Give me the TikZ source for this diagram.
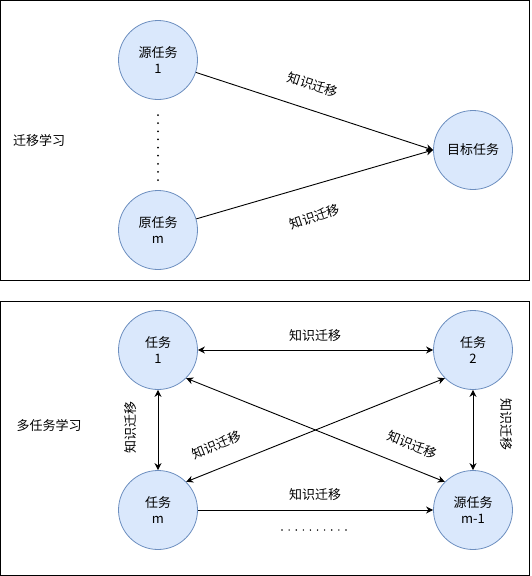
\documentclass[tikz,border=0pt]{standalone}
\usepackage{fontspec}
\setmainfont{Noto Sans CJK SC}
\usepackage{xcolor}
\usetikzlibrary{arrows.meta}
\definecolor{taskfill}{HTML}{DAE8FC}
\definecolor{taskline}{HTML}{6C8EBF}
\tikzset{
  taskcircle/.style = {circle, draw = taskline, fill = taskfill, line width = 0.8pt,
    minimum size = 79pt, inner sep = 0pt, align = center,
    font = \fontsize{13}{16}\selectfont},
  translab/.style = {font = \fontsize{13}{16}\selectfont, inner sep = 0pt},
  transarrow/.style = {line width = 0.9pt, -{Stealth[length = 7pt, width = 7pt]}},
  twoarrow/.style = {line width = 0.9pt, {Stealth[length = 7pt, width = 7pt]}-{Stealth[length = 7pt, width = 7pt]}},
  dotline/.style = {line width = 2pt, line cap = round, dash pattern = on 0pt off #1}
}
\begin{document}
\begin{tikzpicture}[x = 1pt, y = -1pt]

  \useasboundingbox (0,0) rectangle (531,576);

  % Draw frames
  \draw[line width = 1pt] (0.5,0.5) rectangle (529,280);
  \draw[line width = 1pt] (0.5,301) rectangle (529,575);

  % Transfer learning
  \node[translab] (tl) at (39,141) {迁移学习};
  \node[taskcircle] (src1) at (158,60) {源任务\\1};
  \node[taskcircle] (srcm) at (158,230) {原任务\\m};
  \node[taskcircle] (tgt) at (473,150) {目标任务};
  \draw[transarrow] (src1) -- (tgt.west);
  \draw[transarrow] (srcm) -- (tgt.west);
  \node[translab, rotate = -18.3] (tl1) at (313,85) {知识迁移};
  \node[translab, rotate = 18.3] (tl2) at (315,217) {知识迁移};
  \coordinate (vd1) at (158,115);
  \coordinate (vd2) at (158,180.5);
  \draw[dotline = 8.125pt] (vd1) -- (vd2);

  % Multi-task learning
  \node[translab] (mtl) at (49,426) {多任务学习};
  \node[taskcircle] (task1) at (158,350) {任务\\1};
  \node[taskcircle] (task2) at (473,350) {任务\\2};
  \node[taskcircle] (taskm) at (158,510) {任务\\m};
  \node[taskcircle] (taskmm) at (473,510) {源任务\\m-1};
  \draw[twoarrow] (task1) -- (task2);
  \draw[transarrow] (taskm) -- (taskmm);
  \draw[twoarrow] (task1) -- (taskm);
  \draw[twoarrow] (task2) -- (taskmm);
  \draw[twoarrow] (task1.south east) -- (taskmm.north west);
  \draw[twoarrow] (task2.south west) -- (taskm.north east);
  \node[translab] (ml1) at (315,336) {知识迁移};
  \node[translab] (ml2) at (315,495) {知识迁移};
  \node[translab, rotate = 90] (ml3) at (131,427) {知识迁移};
  \node[translab, rotate = -90] (ml4) at (506,424) {知识迁移};
  \node[translab, rotate = 22] (ml5) at (217,445) {知识迁移};
  \node[translab, rotate = -22] (ml6) at (412,445) {知识迁移};
  \coordinate (hd1) at (282,530);
  \coordinate (hd2) at (346.5,530);
  \draw[dotline = 7.11pt, line width = 1.6pt] (hd1) -- (hd2);

\end{tikzpicture}
\end{document}
